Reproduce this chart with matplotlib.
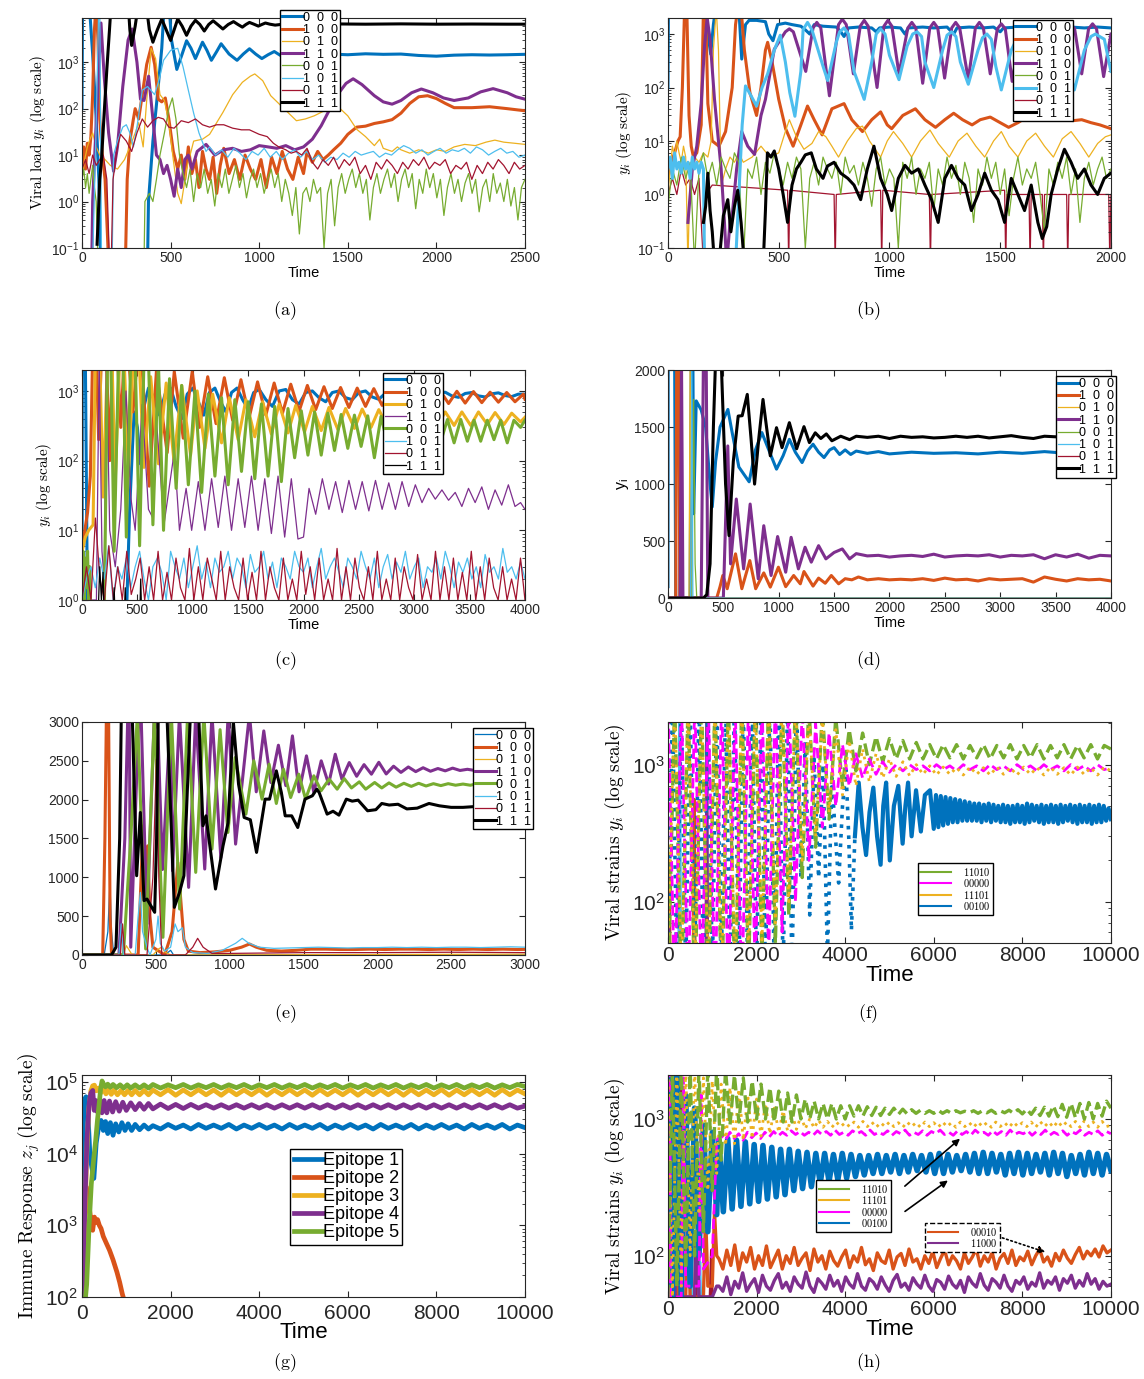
import numpy as np
import matplotlib
matplotlib.use("Agg")
import matplotlib.pyplot as plt
from matplotlib.lines import Line2D

plt.rcParams['font.family'] = ['Liberation Sans', 'DejaVu Sans']
plt.rcParams['mathtext.fontset'] = 'cm'
plt.rcParams['axes.edgecolor'] = '#262626'
plt.rcParams['xtick.color'] = '#262626'
plt.rcParams['ytick.color'] = '#262626'

BLUE, ORANGE, YELLOW, PURPLE = '#0072BD', '#D95319', '#EDB120', '#7E2F8E'
GREEN, LBLUE, DRED, BLACK, MAGENTA = '#77AC30', '#4DBEEE', '#A2142F', 'k', '#FF00FF'
COLORS8 = [BLUE, ORANGE, YELLOW, PURPLE, GREEN, LBLUE, DRED, BLACK]
STRAINS3 = ['0  0  0', '1  0  0', '0  1  0', '1  1  0', '0  0  1', '1  0  1', '0  1  1', '1  1  1']
TK, TN = 2.2, 0.9   # thick / thin line widths


def spread(t0, t1, vals):
    """pair hand-read samples with evenly spaced times"""
    return list(zip(np.linspace(t0, t1, len(vals)), vals))


# ---------------- (a) ----------------
a_000 = [(0, 100), (3, 2e4), (40, 2e4), (60, 1500), (80, 60), (95, 3), (105, 0.05), (370, 0.05), (375, 1), (400, 20),
         (430, 300), (450, 2000), (465, 2e4), (490, 2e4), (505, 3000), (535, 700), (565, 1500), (590, 2900), (615, 2000),
         (640, 1200), (660, 1800), (680, 2700), (705, 1800), (730, 1100), (760, 1700), (785, 2500), (830, 1500),
         (875, 1100), (910, 1500), (945, 1950), (980, 1500), (1015, 1200), (1050, 1450), (1085, 1700), (1120, 1400),
         (1150, 1350), (1200, 1500), (1300, 1450), (1400, 1500), (1500, 1450), (1600, 1520), (1700, 1480), (1800, 1500),
         (1900, 1400), (2000, 1350), (2100, 1420), (2200, 1450), (2300, 1430), (2400, 1450), (2500, 1480)]
a_100 = [(0, 6), (10, 15), (20, 5), (30, 18), (40, 10), (50, 25), (60, 200), (70, 5000), (80, 2e4), (90, 3000), (100, 60),
         (115, 10), (130, 3), (150, 0.05), (245, 0.05), (255, 3), (270, 20), (290, 60), (300, 100), (320, 60), (340, 200),
         (365, 900), (390, 2100), (410, 900), (430, 160), (450, 140), (470, 170), (490, 60), (515, 12), (540, 5), (560, 10),
         (580, 3), (600, 15), (620, 4), (640, 8), (660, 2), (680, 12), (700, 5), (720, 3), (740, 9), (760, 1.5), (780, 6),
         (800, 14), (830, 4), (860, 8), (890, 3), (920, 10), (950, 5), (980, 3), (1010, 8), (1040, 2), (1070, 9),
         (1100, 4), (1130, 12), (1160, 5), (1190, 3), (1220, 9), (1250, 4), (1270, 12), (1300, 7), (1330, 12), (1360, 8),
         (1390, 10), (1420, 13), (1460, 18), (1500, 28), (1550, 40), (1600, 42), (1650, 48), (1700, 52), (1750, 58),
         (1800, 80), (1850, 130), (1900, 180), (1950, 190), (2000, 165), (2050, 130), (2100, 105), (2200, 105),
         (2300, 110), (2400, 100), (2500, 90)]
a_010 = [(0, 3), (15, 8), (30, 15), (45, 22), (60, 30), (80, 15), (100, 10), (130, 8), (160, 6), (200, 5), (240, 8),
         (270, 15), (300, 30), (320, 50), (345, 15), (365, 150), (390, 2000), (415, 1200), (440, 200), (465, 150),
         (490, 50), (515, 8), (540, 1.5), (560, 0.9), (590, 5), (630, 20), (680, 22), (720, 28), (760, 50), (795, 83),
         (850, 200), (905, 370), (950, 500), (975, 560), (1020, 400), (1065, 190), (1140, 100), (1210, 55), (1260, 60),
         (1310, 70), (1380, 95), (1440, 115), (1500, 70), (1550, 36), (1600, 25), (1650, 16), (1680, 22), (1700, 14),
         (1750, 12), (1780, 15), (1800, 13), (1850, 11), (1900, 13), (1955, 11), (2000, 13), (2050, 12), (2100, 15),
         (2160, 17), (2220, 16), (2280, 19), (2330, 21), (2380, 19), (2440, 18), (2500, 17)]
a_110 = [(0, 0.05), (55, 0.05), (60, 1), (80, 50), (107, 7000), (125, 500), (150, 30), (178, 4.5), (200, 15), (230, 300),
         (260, 3000), (283, 5200), (310, 1000), (330, 160), (350, 150), (376, 500), (400, 60), (420, 10), (440, 8),
         (460, 4), (480, 6), (500, 3), (520, 1.3), (540, 5), (560, 2), (580, 8), (600, 10), (620, 5), (650, 12), (700, 17),
         (750, 10), (800, 13), (850, 14), (900, 12), (950, 13), (1000, 16), (1050, 15), (1100, 14), (1150, 16),
         (1200, 13), (1250, 15), (1300, 22), (1350, 43), (1400, 100), (1450, 220), (1490, 350), (1530, 440), (1580, 330),
         (1650, 190), (1700, 140), (1750, 125), (1800, 150), (1860, 220), (1915, 265), (1980, 220), (2040, 170),
         (2100, 150), (2180, 170), (2250, 230), (2320, 270), (2400, 220), (2450, 180), (2500, 160)]
a_001 = [(0, 3), (10, 5), (20, 2), (30, 4), (40, 1.5), (50, 3), (60, 6), (70, 2), (80, 1), (90, 0.05), (350, 0.05),
         (355, 1), (380, 1.5), (400, 1), (420, 3), (440, 10), (465, 30), (490, 100), (510, 170), (530, 60), (550, 10),
         (570, 4)] + spread(590, 2500, [2, 5, 1, 4, 2, 5, 1.5, 3, 0.8, 4, 2, 5, 1.5, 3, 6, 2, 4, 1.2, 3, 5, 2, 4, 1.5, 3, 5,
                                        2, 4, 1, 3, 1.5, 0.5, 2, 0.2, 1.5, 2, 1, 3, 1.5, 2, 0.1, 1.5, 3, 0.3, 2, 4, 1.5,
                                        3, 5, 2, 4, 1.5, 3, 0.4, 2, 4, 1.5, 3, 5, 2, 4, 1, 3, 5, 2, 4, 0.7, 3, 1.5, 5, 2,
                                        4, 1.2, 3, 0.5, 2, 4, 1.5, 3, 1, 2.5, 4, 1.5, 3, 0.6, 2, 3, 1, 4, 1.5, 2.5, 1, 3,
                                        0.8, 2, 0.4, 2, 3])
a_101 = [(60, 0.05), (80, 50), (95, 2e4), (100, 2e4), (110, 0.05), (170, 0.05), (178, 10), (200, 20), (230, 40),
         (250, 45), (270, 30), (290, 15), (310, 40), (340, 250), (370, 300), (410, 200), (440, 500), (460, 1100),
         (500, 1800), (540, 2000), (570, 800), (600, 250), (630, 80), (660, 30), (700, 12)] + \
    spread(720, 2500, [15, 10, 13, 9, 14, 11, 8, 12, 10, 14, 9, 12, 8, 11, 13, 9, 12, 8, 10, 7, 9, 8, 11, 9, 12, 10, 11,
                       12, 9, 11, 10, 13, 16, 14, 11, 13, 10, 12, 14, 11, 13, 12, 14, 11, 15, 13, 10, 12, 14, 11, 12, 9,
                       10])
a_011 = [(0, 5), (20, 8), (40, 4), (60, 10), (80, 6), (100, 8), (120, 10), (140, 3), (155, 0.05), (165, 0.05), (175, 3),
         (200, 15), (218, 28), (250, 20), (280, 12), (310, 30), (340, 60), (370, 40), (400, 55), (430, 65), (460, 60),
         (490, 40), (520, 38), (560, 55), (600, 50), (640, 60), (680, 45), (720, 40), (760, 45), (800, 45), (850, 38),
         (900, 35), (945, 35), (1000, 28), (1045, 25), (1080, 18), (1110, 15), (1150, 13), (1180, 11), (1210, 12)] + \
    spread(1240, 2500, [10, 14, 7, 5, 8, 6, 9, 5, 8, 6, 9, 4, 6, 3, 7, 5, 8, 6, 4, 7, 5, 8, 6, 9, 5, 7, 6, 8, 4, 6, 5, 7, 3,
                        6, 4, 7, 5, 8, 6, 4, 7, 5, 6])
a_111 = [(85, 0.12), (95, 1), (100, 3), (110, 8), (125, 80), (140, 700), (155, 5000), (165, 2e4), (260, 2e4), (270, 5000),
         (280, 2300), (300, 6000), (320, 2e4), (360, 2e4), (380, 5000), (400, 2700), (425, 5000), (450, 8500),
         (475, 5000), (500, 2950), (520, 5000), (540, 8500), (565, 6000), (590, 3800), (615, 6000), (640, 8000),
         (665, 6500), (690, 4700), (715, 6500), (740, 7800), (765, 6500), (795, 5200), (825, 6500), (855, 7500),
         (880, 6500), (905, 5700), (925, 6500), (945, 7200), (970, 6600), (995, 6000), (1015, 6500), (1035, 7000),
         (1060, 6600), (1090, 6300), (1150, 6700), (1250, 6600), (1400, 6700), (1600, 6600), (1800, 6700),
         (2000, 6600), (2200, 6650), (2400, 6600), (2500, 6600)]

# ---------------- (b) ----------------
b_000 = [(0, 100), (2, 3000), (170, 3000), (180, 1000), (193, 420), (205, 1500), (215, 3000), (320, 3000), (333, 340),
         (350, 1500), (366, 1800), (400, 1800), (440, 1700), (455, 1000), (474, 750), (495, 1500), (530, 1600),
         (560, 1500), (600, 1400), (620, 1200), (640, 1000), (660, 1500), (700, 1400), (760, 1350), (780, 1100),
         (795, 900), (815, 1300), (860, 1350), (920, 1300), (940, 1100), (955, 1300), (1000, 1350), (1050, 1300),
         (1070, 1000), (1085, 1300), (1150, 1350), (1200, 1300), (1260, 1350), (1290, 1000), (1305, 1300),
         (1360, 1350), (1420, 1300), (1470, 1350), (1500, 1100), (1515, 1300), (1580, 1350), (1640, 1300),
         (1700, 1350), (1760, 1300), (1820, 1350), (1880, 1300), (1940, 1350), (2000, 1300)]
b_100 = [(0, 2), (15, 4), (30, 6), (45, 10), (55, 12), (65, 100), (75, 3000), (85, 3000), (95, 30), (105, 8), (115, 5),
         (130, 6), (150, 20), (160, 3000), (170, 3000), (180, 50), (200, 10), (230, 8), (260, 15), (290, 100),
         (305, 1500), (315, 3000), (330, 3000), (345, 500), (370, 80), (400, 30), (420, 100), (440, 500), (450, 700),
         (470, 300), (500, 60), (531, 17), (565, 8), (600, 20), (630, 45), (660, 25), (696, 13), (740, 40), (795, 50),
         (830, 25), (878, 15), (920, 25), (960, 35), (990, 20), (1010, 17), (1060, 30), (1117, 40), (1160, 25),
         (1208, 18), (1250, 25), (1290, 33), (1330, 25), (1373, 20), (1410, 25), (1455, 28), (1500, 22), (1538, 18),
         (1580, 22), (1620, 28), (1660, 32), (1703, 30), (1750, 25), (1790, 28), (1830, 24), (1868, 25), (1910, 22),
         (1950, 20), (2000, 17)]
b_010 = [(0, 1), (10, 3), (20, 8), (30, 5), (40, 10), (50, 6), (60, 4), (70, 8), (80, 5), (90, 0.05), (100, 3), (120, 5),
         (140, 4), (160, 6), (180, 5), (195, 10), (205, 500), (218, 3000), (228, 500), (240, 1.4), (260, 3), (280, 5),
         (300, 4), (320, 6), (340, 4), (380, 5), (420, 8), (460, 5), (500, 6), (530, 15), (548, 25), (580, 12),
         (614, 7), (650, 9), (680, 15), (713, 12), (740, 8), (770, 5), (810, 10), (850, 17), (878, 19), (910, 10),
         (960, 5), (990, 10), (1018, 15), (1060, 9), (1100, 5), (1140, 10), (1183, 16), (1220, 9), (1270, 5),
         (1310, 10), (1350, 14), (1390, 8), (1430, 5), (1470, 10), (1505, 15), (1540, 8), (1580, 5), (1620, 10),
         (1660, 14), (1700, 8), (1740, 5), (1780, 11), (1820, 15), (1860, 9), (1900, 5), (1940, 9), (1975, 12),
         (2000, 13)]
b_110 = [(90, 0.3), (110, 3), (130, 8), (150, 50), (165, 600), (177, 2000), (190, 800), (210, 60), (240, 3), (255, 0.3),
         (265, 0.05), (280, 0.3), (292, 0.5), (310, 3), (333, 15), (360, 8), (391, 5.6), (420, 30), (440, 60),
         (480, 520), (530, 1100), (548, 1250), (566, 1100), (622, 200), (655, 1300), (672, 1650), (690, 1300),
         (729, 70), (770, 1500), (787, 1900), (805, 1500), (837, 180), (868, 1400), (886, 1800), (904, 1400),
         (944, 100), (975, 1400), (993, 1800), (1011, 1400), (1043, 180), (1083, 1300), (1101, 1650), (1119, 1300),
         (1150, 120), (1182, 1300), (1200, 1650), (1218, 1300), (1249, 150), (1281, 1300), (1299, 1650), (1317, 1300),
         (1356, 140), (1388, 1300), (1406, 1650), (1424, 1300), (1455, 180), (1487, 1250), (1505, 1550), (1523, 1250),
         (1554, 130), (1594, 1250), (1612, 1550), (1630, 1250), (1662, 180), (1701, 1250), (1719, 1550), (1737, 1250),
         (1769, 140), (1800, 1250), (1818, 1550), (1836, 1250), (1868, 180), (1899, 1250), (1917, 1550), (1935, 1250),
         (1967, 160), (2000, 1000)]
b_001 = spread(0, 2000, [0.6, 3, 1.5, 5, 2, 4, 0.05, 3, 6, 2, 4, 1.5, 5, 3, 2, 6, 4, 0.05, 3, 2, 5, 1, 4, 2.5, 6, 3,
                         1.5, 4, 2, 5, 3, 0.1, 2, 4, 1.5, 5, 3, 2, 4, 1, 5, 2.5, 3.5, 1.5, 4, 2, 0.6, 3, 5, 1.5, 3, 2,
                         0.1, 4, 2, 5, 1, 3, 2, 4, 0.5, 3, 1.5, 5, 2, 3.5, 1, 4, 2, 0.3, 3, 1.5, 5, 2, 4, 1, 3, 0.4,
                         2, 5, 1.5, 3, 2, 4, 1, 0.2, 3, 1.5, 4, 2, 5, 1, 3, 0.3, 2, 4, 1.5, 3, 5, 2, 3])
b_101 = [(0, 3), (10, 5), (20, 2), (30, 6), (40, 3), (50, 4), (60, 2.5), (70, 5), (80, 3), (90, 4), (100, 2), (110, 5),
         (120, 3), (130, 4), (140, 2.5), (150, 4), (160, 3), (165, 0.05), (305, 0.05), (320, 1), (335, 20), (350, 107),
         (375, 70), (400, 45), (425, 100), (450, 180), (480, 500), (507, 950), (530, 300), (550, 80), (573, 29),
         (600, 200), (610, 1200), (630, 1650), (650, 1200), (700, 250), (721, 135), (760, 700), (775, 1100),
         (795, 1300), (815, 1000), (840, 200), (886, 60), (920, 300), (940, 1000), (960, 1250), (980, 1000),
         (1000, 400), (1043, 140), (1080, 600), (1105, 1000), (1125, 1100), (1145, 900), (1160, 300), (1200, 100),
         (1240, 500), (1260, 950), (1280, 1100), (1300, 900), (1320, 300), (1356, 115), (1400, 500), (1420, 850),
         (1440, 1000), (1460, 800), (1480, 250), (1505, 90), (1550, 500), (1580, 900), (1600, 1000), (1620, 850),
         (1640, 300), (1680, 100), (1720, 500), (1740, 900), (1760, 1050), (1780, 900), (1800, 300), (1835, 90),
         (1880, 500), (1910, 900), (1930, 1000), (1970, 800), (2000, 200)]
b_011 = [(0, 1), (20, 2), (40, 1), (60, 3), (80, 1.5), (100, 2), (120, 1), (140, 2), (160, 0.05), (170, 1), (200, 1.5),
         (540, 1.2), (545, 0.05), (550, 1.2), (750, 1), (755, 0.05), (760, 1), (960, 1.2), (965, 0.05), (970, 1.2),
         (1180, 1), (1185, 0.05), (1190, 1), (1520, 1.2), (1525, 0.05), (1530, 1), (1630, 1), (1635, 0.05),
         (1640, 1), (1690, 1), (1695, 0.05), (1700, 1), (1800, 1), (1805, 0.05), (1810, 1), (1990, 1), (1995, 0.05),
         (2000, 1)]
b_111 = [(160, 0.3), (170, 0.6), (180, 2.5), (190, 0.5), (200, 0.2), (210, 0.05), (230, 0.05), (250, 0.4), (270, 0.8),
         (284, 0.2), (300, 0.6), (315, 1.2), (330, 0.3), (345, 0.05), (430, 0.05), (440, 0.5), (449, 6), (465, 5),
         (480, 6.5), (500, 3), (520, 1), (540, 0.3), (560, 1.5), (580, 3), (600, 4), (620, 5.5), (647, 6), (670, 3),
         (700, 2), (720, 3.4), (750, 4), (780, 2.5), (812, 2), (840, 1.5), (870, 0.8), (900, 3), (930, 8), (960, 2),
         (990, 1), (1010, 0.5), (1040, 2), (1070, 3.5), (1100, 2.5), (1130, 3), (1160, 1.5), (1190, 0.8), (1220, 0.3),
         (1250, 2), (1280, 3.5), (1310, 2), (1340, 1.5), (1370, 0.5), (1400, 1), (1430, 2.5), (1460, 1.2), (1490, 0.8),
         (1520, 0.3), (1550, 2), (1580, 1), (1610, 0.5), (1640, 1.5), (1670, 0.3), (1690, 0.15), (1710, 0.25),
         (1730, 1), (1760, 3), (1790, 7), (1820, 4), (1850, 2), (1880, 3), (1910, 1.5), (1940, 1), (1970, 2),
         (2000, 2.5)]

# ---------------- (c) ----------------
c_000 = [(0, 0.5), (3, 3000), (30, 3000), (50, 0.5), (400, 0.5), (430, 20), (470, 500), (500, 300), (527, 90), (560, 600),
         (600, 1100), (650, 800), (700, 450), (750, 900), (800, 1100), (850, 600), (900, 400), (950, 900), (1000, 1100),
         (1050, 700), (1100, 450), (1150, 950), (1200, 1100), (1250, 700), (1300, 500), (1350, 950), (1400, 1100),
         (1450, 750), (1500, 550), (1550, 950), (1600, 1050), (1660, 750), (1720, 600), (1780, 1000), (1840, 1050),
         (1900, 750), (1960, 650), (2020, 950), (2080, 1000), (2140, 800), (2200, 700), (2260, 950), (2320, 1000),
         (2380, 800), (2440, 750), (2500, 950), (2560, 1000), (2620, 820), (2680, 760), (2740, 930), (2800, 980),
         (2860, 830), (2920, 780), (2980, 930), (3040, 970), (3100, 840), (3160, 800), (3220, 920), (3280, 960),
         (3340, 850), (3400, 810), (3460, 920), (3520, 950), (3580, 850), (3640, 820), (3700, 910), (3760, 940),
         (3820, 860), (3880, 830), (3940, 900), (4000, 900)]
c_100 = [(0, 5), (25, 10), (50, 18), (75, 60), (95, 3000), (130, 3000), (150, 200), (175, 3000), (220, 3000), (250, 100),
         (275, 3000), (320, 3000), (350, 300), (380, 3000), (420, 3000), (460, 500), (500, 3000), (540, 2500),
         (607, 43), (672, 1950), (769, 130), (833, 1900), (914, 210), (995, 1900), (1060, 300), (1135, 1600),
         (1210, 340), (1285, 1550), (1360, 380), (1435, 1450), (1510, 420), (1585, 1350), (1660, 450), (1735, 1300),
         (1810, 480), (1885, 1250), (1960, 510), (2035, 1200), (2110, 540), (2185, 1150), (2260, 560), (2335, 1120),
         (2410, 580), (2485, 1100), (2560, 600), (2635, 1080), (2710, 620), (2785, 1060), (2860, 630), (2935, 1040),
         (3010, 640), (3085, 1020), (3160, 650), (3235, 1000), (3310, 660), (3385, 990), (3460, 670), (3535, 980),
         (3610, 680), (3685, 960), (3760, 690), (3835, 950), (3910, 700), (3985, 900), (4000, 760)]
c_010 = [(0, 5), (30, 8), (60, 10), (100, 12), (120, 3000), (160, 3000), (190, 30), (230, 3000), (270, 3000), (300, 50),
         (340, 3000), (380, 3000), (420, 60), (460, 2500), (520, 2000), (560, 80), (620, 1600), (690, 90), (760, 1300),
         (830, 100), (900, 1200), (980, 120), (1040, 1000), (1110, 150), (1180, 900), (1260, 180), (1330, 800),
         (1410, 200), (1480, 750), (1560, 220), (1630, 700), (1710, 240), (1780, 650), (1860, 250), (1930, 620),
         (2010, 260), (2080, 600), (2160, 270), (2230, 580), (2310, 280), (2380, 560), (2460, 290), (2530, 550),
         (2610, 300), (2680, 540), (2760, 300), (2830, 530), (2910, 310), (2980, 520), (3060, 310), (3130, 510),
         (3210, 320), (3280, 500), (3360, 320), (3430, 500), (3510, 320), (3580, 500), (3660, 330), (3730, 490),
         (3810, 330), (3880, 480), (3960, 360), (4000, 420)]
c_110 = [(0, 1), (130, 1), (155, 3000), (180, 5), (200, 2), (220, 3000), (250, 10), (300, 3), (350, 20), (397, 1000),
         (440, 30), (480, 10), (543, 640), (600, 20), (640, 15), (672, 390), (740, 12), (833, 135), (880, 10), (940, 40),
         (990, 10), (1050, 50), (1110, 10), (1170, 55), (1230, 11), (1290, 60), (1350, 10), (1410, 55), (1470, 11),
         (1530, 60), (1590, 10), (1650, 55), (1710, 9), (1770, 60), (1830, 8), (1890, 55), (1950, 7.5), (2000, 8),
         (2050, 40), (2110, 17), (2170, 55), (2230, 20), (2290, 50), (2350, 18), (2410, 52), (2470, 20), (2530, 50),
         (2590, 19), (2650, 52), (2710, 20), (2770, 48), (2830, 20), (2890, 50), (2950, 22), (3010, 45), (3070, 25),
         (3130, 40), (3190, 28), (3250, 38), (3310, 27), (3370, 35), (3430, 22), (3490, 40), (3550, 25), (3610, 42),
         (3670, 20), (3730, 38), (3790, 23), (3850, 45), (3910, 22), (3960, 25), (4000, 20)]
c_001 = [(0, 2), (10, 5), (20, 1), (30, 4), (40, 1.5), (50, 5), (60, 1), (70, 3), (80, 0.5), (200, 0.5), (230, 3000),
         (260, 3000), (290, 5), (330, 3000), (370, 3000), (400, 8), (440, 3000), (480, 3000), (520, 6), (560, 3000),
         (600, 3000), (640, 12), (690, 2500), (736, 10), (790, 1500), (850, 40), (900, 1200), (960, 45), (1020, 1000),
         (1080, 35), (1140, 900), (1200, 60), (1260, 800), (1320, 45), (1380, 750), (1440, 70), (1500, 700),
         (1560, 55), (1620, 650), (1680, 60), (1740, 600), (1800, 50), (1860, 560), (1920, 110), (1980, 520),
         (2040, 120), (2100, 500), (2160, 120), (2220, 480), (2280, 140), (2340, 460), (2400, 150), (2460, 450),
         (2520, 160), (2580, 440), (2640, 110), (2700, 430), (2760, 170), (2820, 420), (2880, 180), (2940, 410),
         (3000, 175), (3060, 400), (3120, 180), (3180, 400), (3240, 190), (3300, 390), (3360, 180), (3420, 390),
         (3480, 190), (3540, 380), (3600, 190), (3660, 380), (3720, 200), (3780, 380), (3840, 180), (3900, 380),
         (3960, 300), (4000, 380)]
c_101 = spread(0, 4000, [1, 2, 3, 1.5, 4, 2, 6, 1, 3, 2, 4, 1.5, 3, 5, 2, 1, 3, 4, 2.5, 1, 5, 3, 2, 4, 1.5, 3, 6, 2,
                         3.5, 1.5, 4, 2.5, 3, 5, 2, 4, 3, 1.5, 4.5, 2.5, 3, 5, 2, 3.5, 1.5, 4, 3, 2, 5, 3, 2.5, 4, 1.5,
                         3, 5.5, 2, 3, 4, 2.5, 1.5, 4, 3, 2, 5, 3, 2, 4, 1.5, 3, 4.5, 2, 3.5, 2.5, 5, 2, 3, 4, 1.5, 3,
                         2.5, 4, 2, 5, 3, 1.5, 3.5, 2.5, 4, 2, 3, 1.5, 4.5, 2.5, 3, 2, 5.5, 2.5, 3, 2, 3.5, 2])
c_011 = spread(0, 4000, [1, 3, 1, 15, 2, 1, 6, 1, 3, 1, 5, 1.2, 2, 4, 1, 3, 1, 5, 1, 2.5, 1, 4, 1.5, 1, 5.5, 1, 3, 1, 4,
                         2, 1, 5, 1, 3, 1.5, 1, 4, 1, 2.5, 1, 5, 1, 3, 1.5, 1, 4, 1, 2, 1, 5, 1.2, 3, 1, 4, 1, 2, 1,
                         5.5, 1, 3, 1, 4, 1.5, 1, 3, 1, 5, 1, 2, 1, 4, 1, 3, 1.5, 1, 4.5, 1, 2, 1, 5, 1, 3, 1, 4, 1,
                         2.5, 1, 5, 1, 3, 1, 4, 1.5, 1, 3, 1, 2, 1, 4, 1])
c_111 = [(0, 0.5), (140, 0.5), (150, 1), (160, 3), (175, 1), (190, 2.5), (200, 0.5), (280, 0.5), (290, 1.5), (300, 0.5),
         (380, 0.5), (390, 1.5), (400, 0.5), (520, 0.5), (530, 2), (540, 0.5), (4000, 0.5)]

# ---------------- (d) ----------------
d_000 = [(0, 100), (2, 2100), (60, 2100), (70, 0), (200, 0), (210, 2100), (225, 2100), (232, 740), (255, 1730),
         (300, 1650), (340, 1500), (380, 1000), (400, 800), (430, 1200), (470, 1500), (541, 1655), (580, 1450),
         (640, 1150), (690, 1080), (733, 1020), (790, 1300), (848, 1452), (910, 1300), (980, 1131), (1040, 1250),
         (1096, 1393), (1150, 1280), (1211, 1189), (1260, 1290), (1310, 1350), (1360, 1280), (1409, 1233),
         (1460, 1300), (1500, 1320), (1550, 1260), (1600, 1300), (1650, 1260), (1700, 1290), (1800, 1270),
         (1900, 1285), (2000, 1265), (2200, 1280), (2400, 1270), (2600, 1275), (2800, 1265), (3000, 1280),
         (3200, 1270), (3400, 1285), (3600, 1270), (3800, 1265), (4000, 1280)]
d_100 = [(0, 0), (70, 0), (79, 2100), (100, 2100), (106, 0), (440, 0), (470, 100), (495, 198), (535, 82), (610, 388),
         (667, 82), (739, 329), (792, 82), (865, 221), (924, 96), (997, 271), (1063, 100), (1135, 198), (1195, 125),
         (1228, 233), (1310, 105), (1360, 175), (1420, 130), (1475, 198), (1541, 125), (1600, 170), (1660, 160),
         (1720, 185), (1800, 160), (1900, 170), (2000, 160), (2100, 165), (2200, 160), (2300, 170), (2400, 155),
         (2500, 175), (2600, 160), (2700, 165), (2800, 150), (2900, 170), (3000, 160), (3100, 165), (3200, 170),
         (3300, 140), (3400, 185), (3500, 165), (3600, 150), (3700, 170), (3800, 160), (3900, 165), (4000, 150)]
d_010 = [(0, 0), (190, 0), (200, 2100), (212, 0), (4000, 0)]
d_110 = [(0, 0), (110, 0), (122, 2100), (135, 0), (300, 0), (320, 2100), (345, 2100), (360, 0), (500, 0), (540, 1335),
         (565, 300), (617, 869), (683, 256), (742, 825), (815, 169), (865, 635), (931, 198), (990, 540), (1063, 227),
         (1112, 533), (1178, 256), (1238, 446), (1294, 315), (1360, 460), (1426, 344), (1500, 400), (1574, 431),
         (1640, 344), (1700, 390), (1750, 380), (1800, 370), (1900, 375), (2000, 360), (2100, 370), (2200, 375),
         (2300, 365), (2400, 385), (2500, 360), (2600, 370), (2700, 375), (2800, 370), (2900, 380), (3000, 360),
         (3100, 375), (3200, 370), (3300, 380), (3400, 345), (3500, 380), (3600, 360), (3700, 385), (3800, 350),
         (3900, 375), (4000, 370)]
d_001 = [(0, 0), (215, 0), (232, 1743), (245, 300), (260, 0), (4000, 0)]
d_101 = [(0, 0), (205, 0), (215, 2100), (225, 0), (4000, 0)]
d_011 = [(0, 0), (4000, 0)]
d_111 = [(0, 0), (320, 0), (350, 30), (380, 300), (410, 1500), (430, 2100), (480, 2100), (520, 1000), (551, 548),
         (590, 1200), (634, 1597), (670, 1600), (716, 1787), (750, 1400), (782, 1000), (820, 1400), (858, 1743),
         (890, 1500), (924, 1248), (980, 1495), (1030, 1320), (1096, 1539), (1162, 1310), (1228, 1504), (1277, 1364),
         (1330, 1450), (1380, 1400), (1430, 1440), (1480, 1380), (1560, 1420), (1640, 1390), (1700, 1420),
         (1800, 1410), (1900, 1420), (2000, 1400), (2100, 1420), (2200, 1410), (2300, 1415), (2400, 1405),
         (2500, 1410), (2600, 1420), (2700, 1410), (2800, 1420), (2900, 1405), (3000, 1415), (3100, 1425),
         (3200, 1410), (3300, 1400), (3400, 1420), (3500, 1415), (3600, 1420), (3700, 1410), (3800, 1420),
         (3900, 1410), (4000, 1415)]

# ---------------- (e) ----------------
e_000 = [(0, 0), (150, 0), (175, 300), (189, 934), (200, 300), (215, 0), (560, 0), (600, 60), (620, 0), (3000, 0)]
e_100 = [(0, 0), (140, 0), (155, 1500), (165, 3100), (180, 3100), (190, 500), (200, 0), (380, 0), (400, 1000),
         (415, 1663), (430, 1100), (445, 1405), (460, 500), (480, 100), (560, 0), (610, 300), (649, 1190), (665, 800),
         (690, 200), (720, 50), (800, 30), (900, 40), (1000, 60), (1080, 100), (1134, 141), (1180, 100), (1250, 60),
         (1350, 50), (1450, 60), (1550, 75), (1650, 75), (1750, 70), (1850, 70), (1950, 75), (2050, 70), (2150, 75),
         (2250, 75), (2350, 70), (2450, 75), (2550, 70), (2650, 75), (2750, 70), (2850, 75), (2950, 70), (3000, 72)]
e_010 = [(0, 0), (280, 0), (300, 120), (320, 60), (340, 0), (480, 0), (520, 80), (540, 100), (560, 40), (600, 0),
         (3000, 10)]
e_110 = [(0, 0), (250, 0), (290, 1500), (310, 3100), (320, 3100), (330, 100), (385, 3100), (400, 3100), (440, 400),
         (490, 3100), (510, 3100), (545, 1100), (600, 3100), (613, 1084), (660, 3100), (722, 870), (770, 3100),
         (831, 1106), (880, 3100), (940, 1250), (990, 3100), (1040, 1427), (1134, 3100), (1180, 2100), (1231, 2884),
         (1279, 2220), (1330, 2700), (1380, 2180), (1425, 2820), (1470, 2100), (1520, 2563), (1570, 2092),
         (1620, 2499), (1670, 2200), (1715, 2584), (1760, 2263), (1810, 2477), (1860, 2300), (1910, 2450),
         (1960, 2327), (2010, 2480), (2060, 2330), (2110, 2430), (2160, 2350), (2210, 2420), (2260, 2360),
         (2310, 2410), (2360, 2365), (2410, 2400), (2460, 2370), (2510, 2405), (2560, 2375), (2610, 2390),
         (2660, 2375), (2710, 2395), (2760, 2380), (2810, 2385), (2860, 2380), (2910, 2390), (2960, 2380),
         (3000, 2385)]
e_001 = [(0, 0), (280, 0), (330, 1500), (375, 3100), (431, 77), (490, 3100), (548, 227), (605, 3100), (661, 591),
         (715, 3100), (770, 1063), (825, 3100), (880, 1363), (935, 2900), (988, 1577), (1037, 2541), (1110, 1813),
         (1163, 2500), (1219, 2006), (1267, 2456), (1316, 1950), (1364, 2392), (1413, 2027), (1468, 2327),
         (1514, 2006), (1570, 2306), (1619, 2113), (1674, 2263), (1728, 2134), (1776, 2270), (1825, 2150),
         (1878, 2229), (1921, 2134), (1982, 2220), (2030, 2150), (2079, 2215), (2127, 2160), (2180, 2210),
         (2230, 2170), (2280, 2210), (2330, 2175), (2380, 2205), (2430, 2180), (2480, 2205), (2530, 2185),
         (2580, 2200), (2630, 2185), (2680, 2205), (2730, 2190), (2780, 2200), (2830, 2190), (2880, 2200),
         (2930, 2195), (3000, 2200)]
e_101 = [(0, 0), (250, 0), (265, 400), (280, 0), (360, 0), (380, 500), (395, 805), (410, 300), (440, 100), (460, 0),
         (500, 200), (515, 500), (530, 150), (560, 50), (600, 100), (630, 400), (650, 300), (680, 350), (700, 100),
         (750, 30), (850, 20), (950, 60), (1040, 150), (1085, 214), (1130, 150), (1200, 100), (1300, 85), (1400, 90),
         (1500, 95), (1600, 100), (1700, 95), (1800, 90), (1900, 95), (2000, 95), (2100, 100), (2200, 95),
         (2300, 100), (2400, 95), (2500, 100), (2600, 100), (2700, 95), (2800, 100), (2900, 105), (3000, 100)]
e_011 = [(0, 0), (260, 0), (274, 400), (290, 0), (440, 0), (480, 1000), (504, 2520), (520, 1000), (540, 0), (700, 0),
         (750, 100), (783, 214), (820, 100), (880, 20), (1000, 20), (1500, 30), (2000, 30), (2500, 35), (3000, 30)]
e_111 = [(0, 0), (200, 0), (230, 100), (255, 1500), (266, 3100), (340, 3100), (370, 1020), (395, 1834), (420, 700),
         (440, 720), (492, 549), (505, 1500), (516, 3100), (575, 3100), (625, 613), (660, 805), (690, 1020),
         (734, 3100), (790, 3100), (819, 1663), (840, 1791), (860, 1491), (904, 849), (955, 1405), (989, 1700),
         (1025, 3000), (1060, 2200), (1098, 1770), (1140, 1740), (1182, 1320), (1240, 2006), (1270, 2006),
         (1316, 2370), (1350, 2091), (1376, 1791), (1420, 1791), (1461, 1641), (1510, 2006), (1560, 2049),
         (1590, 2134), (1606, 2091), (1660, 1813), (1700, 1850), (1740, 1800), (1790, 2006), (1830, 1980),
         (1870, 1993), (1934, 1856), (1990, 1870), (2030, 1950), (2080, 1930), (2140, 1940), (2200, 1880),
         (2270, 1890), (2350, 1950), (2420, 1920), (2500, 1900), (2580, 1900), (2660, 1910), (2740, 1920),
         (2820, 1900), (2900, 1900), (3000, 1900)]

# ---------------- (f) ----------------
f_11010 = spread(0, 10000, [20, 3000, 20, 3000, 20, 3000, 20, 3000, 20, 3000, 20, 3000, 30, 3000, 40, 3000, 50, 3000,
                            80, 3000, 150, 2800, 250, 2500, 400, 2200, 700, 1800, 900, 1700, 1000, 1600, 1050, 1550,
                            1100, 1500, 1100, 1450, 1100, 1400, 1100, 1400, 1120, 1400, 1100, 1380, 1120, 1400, 1100,
                            1380, 1120, 1400, 1100, 1380, 1120, 1400, 1100, 1380, 1120, 1400, 1100, 1380, 1120, 1400,
                            1100, 1380, 1300])
f_00000 = spread(0, 10000, [3000, 20, 3000, 20, 3000, 20, 3000, 20, 3000, 20, 3000, 20, 3000, 30, 3000, 40, 3000, 60,
                            3000, 100, 2500, 200, 2000, 350, 1700, 500, 1400, 700, 1200, 800, 1100, 850, 1050, 880,
                            1000, 900, 1000, 920, 980, 900, 1000, 920, 980, 900, 1000, 920, 980, 900, 1000, 920, 980,
                            900, 1000, 920, 980, 900, 1000, 920, 980, 900, 1000, 920, 980, 900, 1000, 920, 950])
f_11101 = spread(0, 10000, [50, 3000, 30, 3000, 30, 3000, 30, 3000, 30, 3000, 30, 3000, 40, 3000, 50, 3000, 70, 3000,
                            100, 2800, 200, 2500, 300, 2200, 450, 1800, 600, 1500, 700, 1300, 750, 1200, 800, 1100,
                            820, 1050, 830, 1000, 850, 980, 840, 960, 850, 950, 840, 960, 850, 950, 840, 960, 850, 950,
                            840, 960, 850, 950, 840, 960, 850, 950, 840, 960, 850, 950, 840, 960, 900])
f_00100_early = spread(0, 3000, [30, 3000, 30, 3000, 30, 3000, 30, 3000, 30, 3000, 30, 3000, 30, 3000, 30, 3000, 30,
                                 3000, 30, 3000, 30, 3000, 30, 3000, 30, 3000, 30, 3000, 30, 3000, 150]) + \
    [(3100, 1500), (3200, 80), (3300, 1100), (3400, 150), (3500, 1000), (3600, 40), (3700, 800), (3780, 300),
     (3853, 137), (3940, 500), (4018, 920), (4080, 300), (4141, 62), (4220, 300)]
f_00100_late = [(4220, 300), (4306, 740), (4390, 350), (4472, 219), (4550, 450), (4636, 680), (4720, 300), (4800, 186),
                (4860, 500), (4925, 740), (5008, 200), (5100, 500), (5200, 700), (5297, 265), (5360, 500), (5420, 740),
                (5500, 300), (5600, 650), (5709, 325), (5800, 600), (5915, 650), (6000, 340)] + \
    spread(6050, 10000, [600, 350, 590, 360, 580, 370, 570, 380, 560, 380, 550, 390, 540, 390, 530, 390, 520, 390, 520,
                         380, 510, 390, 520, 380, 510, 390, 500, 380, 510, 380, 500, 370, 500, 380, 510, 380, 500, 370,
                         520, 380, 510, 390, 500, 380, 510, 370, 500, 380, 510, 380, 500, 370, 510, 380, 500, 390,
                         510, 380, 500, 370, 510, 380, 500, 380, 510, 370, 500, 380, 510, 380, 500, 390, 480, 400])
f_extra = [([(0, 20), (30, 200), (60, 20), (560, 20), (594, 560), (620, 20)], ORANGE),
           ([(0, 20), (20, 65), (40, 20), (850, 20), (880, 3000), (900, 20)], PURPLE),
           ([(240, 20), (264, 3000), (290, 20)], LBLUE)]

# ---------------- (g) ----------------
g_e1 = [(0, 80), (15, 3000), (40, 55000), (90, 62000), (130, 40000), (180, 9000), (267, 4500), (320, 14000),
        (380, 25000), (430, 29000), (480, 21000), (530, 28000), (580, 19000), (640, 27000), (700, 18000), (760, 26000),
        (830, 20000), (900, 27000), (970, 21000), (1040, 26000), (1120, 21000), (1200, 25500), (1300, 21500),
        (1400, 25000), (1500, 22000)] + \
    spread(1600, 10000, [24500, 22000, 25500, 22500, 25000, 22000, 25500, 22500, 25000, 22500, 25500, 22000, 25000,
                         22500, 25500, 22500, 25000, 22000, 25500, 22500, 25000, 22500, 25500, 22000, 25000, 22500,
                         25500, 22500, 25000, 22000, 25500, 22500, 25000, 22500, 25500, 22000, 25000, 22500, 25500,
                         22500, 25000, 22000, 25500, 22500, 25000, 22500, 25500, 22000, 25000, 23000])
g_e2 = [(30, 100), (60, 1000), (90, 3500), (120, 2500), (150, 2000), (200, 1200), (240, 850), (280, 1300), (320, 1100),
        (350, 1200), (390, 1000), (430, 900), (480, 700), (550, 560), (620, 450), (700, 330), (790, 220), (850, 160),
        (910, 110), (950, 90)]
g_e3 = [(0, 50), (40, 100), (65, 1000), (100, 8000), (150, 40000), (200, 75000), (240, 88000), (280, 90000),
        (320, 75000), (370, 82000), (420, 70000), (480, 80000), (540, 68000), (600, 78000), (660, 67000), (720, 77000),
        (800, 66000), (880, 76000), (960, 66000), (1040, 76000), (1120, 66000), (1200, 76000), (1300, 66000),
        (1400, 76000), (1500, 66000)] + \
    spread(1600, 10000, [77000, 66000, 78000, 65000, 77000, 66000, 78000, 66000, 77000, 65000, 78000, 66000, 77000,
                         66000, 78000, 65000, 77000, 66000, 78000, 66000, 77000, 65000, 78000, 66000, 77000, 66000,
                         78000, 65000, 77000, 66000, 78000, 66000, 77000, 65000, 78000, 66000, 77000, 66000, 78000,
                         65000, 77000, 66000, 78000, 66000, 77000, 65000, 78000, 66000, 77000, 68000])
g_e4 = [(0, 50), (20, 100), (60, 1500), (110, 15000), (160, 50000), (200, 70000), (242, 76000), (275, 40000),
        (310, 55000), (350, 38000), (400, 56000), (450, 37000), (500, 55000), (560, 37000), (620, 54000), (690, 38000),
        (760, 53000), (840, 39000), (920, 52000), (1000, 40000), (1100, 51000), (1200, 41000), (1300, 50000),
        (1400, 41500), (1500, 50000)] + \
    spread(1600, 10000, [42000, 49000, 42500, 48500, 42500, 48500, 43000, 48000, 43000, 48000, 43000, 48000, 43000,
                         48000, 43000, 48000, 43000, 48000, 43000, 48000, 43000, 48000, 43000, 48000, 43000, 48000,
                         43000, 48000, 43000, 48000, 43000, 48000, 43000, 48000, 43000, 48000, 43000, 48000, 43000,
                         48000, 43000, 48000, 43000, 48000, 43000, 48000, 43000, 48000, 43000, 46000])
g_e5 = [(0, 50), (65, 80), (105, 150), (160, 1000), (210, 3800), (260, 8000), (307, 15000), (350, 30000), (388, 50000),
        (420, 80000), (452, 103000), (490, 92000), (530, 85000), (580, 93000), (640, 84000), (700, 92000),
        (780, 83000), (860, 91000), (940, 82000), (1020, 91000), (1100, 82000), (1200, 91000), (1300, 82000),
        (1400, 91000), (1500, 82000)] + \
    spread(1600, 10000, [92000, 82000, 91000, 83000, 92000, 82000, 91000, 83000, 92000, 82000, 91000, 83000, 92000,
                         82000, 91000, 83000, 92000, 82000, 91000, 83000, 92000, 82000, 91000, 83000, 92000, 82000,
                         91000, 83000, 92000, 82000, 91000, 83000, 92000, 82000, 91000, 83000, 92000, 82000, 91000,
                         83000, 92000, 82000, 91000, 83000, 92000, 82000, 91000, 83000, 92000, 86000])

# ---------------- (h) ----------------
h_11010 = spread(0, 10000, [50, 2500, 60, 2500, 80, 2500, 100, 2500, 150, 2500, 300, 2500, 500,
                            2300, 900, 2100, 950, 2000, 950, 1900, 1000, 1800, 1000, 1700, 950, 1600,
                            950, 1550, 950, 1500, 1000, 1400, 1000, 1350, 1000, 1300, 1000, 1300, 1000, 1250, 1000,
                            1250, 1050, 1250, 1050, 1230, 1060, 1220, 1060, 1200, 1080, 1200, 1080, 1180, 1090, 1170,
                            1100, 1160, 1100, 1150, 1100, 1160, 1100, 1150, 1100, 1150, 1110, 1140, 1110, 1150, 1100,
                            1150, 1110, 1160, 1100, 1150, 1110, 1160, 1100, 1170, 1090, 1180, 1080, 1200, 1060, 1220,
                            1050, 1250, 1040, 1280, 1030, 1300, 1020, 1300, 1000, 1320, 1000, 1300, 1050, 1350, 1200])
h_11101 = spread(0, 10000, [2500, 50, 2500, 60, 2500, 100, 2500, 200, 2000, 300, 1900, 400, 1800,
                            640, 1700, 660, 1650, 700, 1500, 720, 1400, 750, 1300, 780, 1200, 800,
                            1150, 820, 1100, 840, 1050, 850, 1000, 860, 980, 870, 960, 870, 950, 880, 940,
                            880, 950, 870, 960, 880, 950, 870, 940, 880, 950, 880, 940, 870, 950, 880, 940, 870, 950,
                            880, 940, 870, 950, 880, 940, 870, 950, 880, 940, 870, 950, 880, 940, 870, 950, 880, 940,
                            870, 950, 880, 940, 880, 950, 870, 960, 880, 950, 870, 960, 880, 950, 880, 960, 870, 970,
                            880, 950, 870, 960, 880, 900])
h_00000 = [(0, 50), (20, 2500), (40, 2500), (60, 50), (300, 50), (350, 2000), (400, 60), (700, 60), (750, 1500),
           (800, 80), (1000, 100), (1100, 700)] + \
    spread(1200, 10000, [760, 700, 800, 720, 780, 700, 800, 730, 790, 720, 800, 740, 810, 750, 800, 760, 820, 770, 810,
                         760, 800, 760, 820, 770, 810, 760, 830, 770, 800, 760, 820, 780, 810, 760, 830, 770, 800, 770,
                         820, 760, 810, 780, 830, 760, 800, 770, 820, 760, 810, 780, 830, 770, 800, 760, 820, 770, 810,
                         760, 830, 780, 800, 760, 820, 770, 810, 760, 830, 770, 800, 780, 820, 760, 810, 770, 830, 760,
                         800, 770, 820, 760, 810, 780, 830, 760, 800, 770, 820, 760, 810, 780])
h_00100 = [(0, 50), (50, 2500), (100, 50), (200, 2500), (300, 50), (400, 1500), (500, 60), (600, 1200), (700, 100),
           (800, 900), (900, 150), (1000, 800), (1100, 200)] + \
    spread(1150, 10000, [700, 210, 720, 220, 700, 230, 680, 240, 650, 250, 640, 260, 620, 270, 600, 280, 600, 300, 580,
                         310, 570, 320, 560, 340, 560, 350, 550, 360, 560, 370, 550, 380, 540, 390, 540, 400, 550, 400,
                         540, 410, 550, 400, 540, 410, 550, 420, 540, 410, 550, 400, 560, 400, 550, 410, 540, 420, 550,
                         410, 560, 400, 570, 400, 560, 410, 550, 390, 560, 400, 570, 390, 560, 400, 550, 410, 560, 390,
                         570, 400, 560, 380, 540, 400, 550, 390, 570, 400, 560, 390, 550, 420])
h_00010 = [(0, 50), (150, 50), (180, 600), (210, 50), (400, 50), (450, 300), (500, 50), (800, 50), (850, 200),
           (900, 60), (1000, 60), (1050, 210), (1100, 100)] + \
    spread(1150, 10000, [95, 80, 110, 85, 120, 78, 105, 90, 115, 80, 100, 85, 118, 82, 95, 110, 80, 100, 88, 115, 85,
                         96, 105, 78, 112, 90, 100, 80, 108, 92, 84, 98, 110, 82, 100, 90, 115, 86, 95, 78, 105, 92,
                         88, 110, 80, 98, 104, 85, 112, 90, 95, 80, 100, 88, 108, 82, 96, 110, 86, 100, 92, 80, 105,
                         88, 98, 112, 84, 100, 90, 106, 80, 96, 104, 88, 110, 85, 98, 92, 108, 86, 100, 112, 90, 98,
                         84, 104, 92, 110, 96, 88, 102, 115, 95, 108, 100, 112, 98, 118, 105, 110])
h_11000 = [(0, 50), (100, 50), (130, 1500), (160, 50), (600, 50), (650, 150), (700, 50), (1000, 50), (1100, 60)] + \
    spread(1150, 10000, [60, 55, 70, 52, 65, 58, 75, 55, 62, 68, 54, 72, 60, 56, 66, 74, 58, 64, 55, 70, 62, 58, 76, 60,
                         54, 68, 63, 57, 72, 60, 66, 55, 70, 62, 58, 74, 60, 56, 68, 64, 57, 70, 61, 55, 66, 73, 59,
                         63, 56, 69, 62, 58, 72, 60, 55, 67, 64, 57, 71, 62, 58, 66, 54, 70, 63, 59, 74, 61, 56, 68,
                         64, 58, 72, 60, 55, 66, 62, 70, 57, 64, 60, 75, 58, 66, 62, 70, 56, 68, 63, 72, 58, 66, 60,
                         74, 62, 68, 57, 65, 60, 62])
h_extra = [([(0, 50), (130, 50), (160, 2500), (190, 50), (500, 50), (520, 120), (540, 50), (700, 50), (720, 90),
             (740, 50)], LBLUE),
           ([(250, 50), (280, 2500), (310, 50), (600, 50), (620, 150), (640, 50), (950, 50), (980, 110),
             (1000, 50)], DRED)]


def line(ax, pts, **kw):
    t, v = zip(*pts)
    return ax.plot(t, v, **kw)[0]


def style(ax, xmax, xstep, tsize=10):
    ax.set_xlim(0, xmax)
    ax.set_xticks(np.arange(0, xmax + 1, xstep))
    ax.tick_params(which='both', direction='in', top=True, right=True, labelsize=tsize, pad=2)
    ax.tick_params(which='major', length=4)
    ax.tick_params(which='minor', length=2)
    for s in ax.spines.values():
        s.set_linewidth(0.8)


def strain_legend(ax, x, y):
    ax.legend(loc='upper left', bbox_to_anchor=(x, y), fontsize=9, frameon=True, fancybox=False, edgecolor='k',
              framealpha=1, borderpad=0.15, labelspacing=0.02, handlelength=1.7, handletextpad=0.0,
              borderaxespad=0)


def strain_panel(ax, series, widths):
    return [line(ax, pts, color=c, lw=w, label=lab)
            for pts, c, w, lab in zip(series, COLORS8, widths, STRAINS3)]


def small_legend(ax, colors, labels, x, y):
    hs = [Line2D([], [], color=c, lw=1.5) for c in colors]
    return ax.legend(hs, [r'$\mathrm{%s}$' % s for s in labels], loc='upper left', bbox_to_anchor=(x, y),
                     fontsize=7.5, frameon=True, fancybox=False, edgecolor='k', framealpha=1, handlelength=2.9,
                     handletextpad=1.2, labelspacing=-0.05, borderpad=0.25, borderaxespad=0)


fig = plt.figure(figsize=(11.44, 13.79), dpi=100)
W = 0.3872
L1, L2 = 0.0717, 0.5839

# (a)
ax = fig.add_axes([L1, 0.8202, W, 0.1668])
strain_panel(ax, [a_000, a_100, a_010, a_110, a_001, a_101, a_011, a_111], [TK, TK, TN, TK, TN, TN, TN, TK])
ax.set_yscale('log'); ax.set_ylim(0.1, 9000)
ax.set_yticks([0.1, 1, 10, 100, 1000])
style(ax, 2500, 500)
ax.set_xlabel('Time', fontsize=10.5, labelpad=1)
ax.set_ylabel(r'$\mathrm{Viral\ load}\ y_i\ \mathrm{(log\ scale)}$', fontsize=11, labelpad=2)
strain_legend(ax, 0.447, 1.035)

# (b)
ax = fig.add_axes([L2, 0.8202, W, 0.1668])
lines_b = strain_panel(ax, [b_000, b_100, b_010, b_110, b_001, b_101, b_011, b_111],
                       [TK, TK, TN, TK, TN, TK, TN, TK])
lines_b[6].set_zorder(1.5)   # 0 1 1 sits under the noise, only its drops show
ax.set_yscale('log'); ax.set_ylim(0.1, 2000)
ax.set_yticks([0.1, 1, 10, 100, 1000])
style(ax, 2000, 500)
ax.set_xlabel('Time', fontsize=10.5, labelpad=1)
ax.set_ylabel(r'$y_i\ \mathrm{(log\ scale)}$', fontsize=11, labelpad=2)
strain_legend(ax, 0.779, 0.991)

# (c)
ax = fig.add_axes([L1, 0.5649, W, 0.1668])
strain_panel(ax, [c_000, c_100, c_010, c_110, c_001, c_101, c_011, c_111], [TK, TK, TK, TN, TK, TN, TN, TN])
ax.set_yscale('log'); ax.set_ylim(1, 2000)
ax.set_yticks([1, 10, 100, 1000])
style(ax, 4000, 500)
ax.set_xlabel('Time', fontsize=10.5, labelpad=1)
ax.set_ylabel(r'$y_i\ \mathrm{(log\ scale)}$', fontsize=11, labelpad=2)
strain_legend(ax, 0.679, 0.987)

# (d)
ax = fig.add_axes([L2, 0.5663, W, 0.1653])
strain_panel(ax, [d_000, d_100, d_010, d_110, d_001, d_101, d_011, d_111], [TK, TK, TN, TK, TN, TN, TN, TK])
ax.set_ylim(0, 2000)
ax.set_yticks(np.arange(0, 2001, 500))
style(ax, 4000, 500)
ax.set_xlabel('Time', fontsize=10.5, labelpad=1)
ax.set_ylabel(r'y$_\mathregular{i}$', fontsize=11.5, labelpad=2)
strain_legend(ax, 0.876, 0.974)

# (e)
ax = fig.add_axes([L1, 0.3075, W, 0.169])
strain_panel(ax, [e_000, e_100, e_010, e_110, e_001, e_101, e_011, e_111], [TN, TK, TN, TK, TK, TN, TN, TK])
ax.set_ylim(0, 3000)
ax.set_yticks(np.arange(0, 3001, 500))
style(ax, 3000, 500)
strain_legend(ax, 0.883, 0.974)

# (f)
ax = fig.add_axes([L2, 0.3162, W, 0.1603])
for pts, c in f_extra:
    line(ax, pts, color=c, lw=2)
line(ax, f_00100_early, color=BLUE, lw=2.6, ls=':')
line(ax, f_00100_late, color=BLUE, lw=3.0)
line(ax, f_11010, color=GREEN, lw=2.4, ls='--')
line(ax, f_00000, color=MAGENTA, lw=2.0, ls='--')
line(ax, f_11101, color=YELLOW, lw=2.0, ls=':')
ax.set_yscale('log'); ax.set_ylim(50, 2050)
ax.set_yticks([100, 1000])
style(ax, 10000, 2000, tsize=15)
ax.set_xlabel('Time', fontsize=16, labelpad=0)
ax.set_ylabel(r'$\mathrm{Viral\ strains}\ y_i\ \mathrm{(log\ scale)}$', fontsize=14, labelpad=4)
small_legend(ax, [GREEN, MAGENTA, YELLOW, BLUE], ['11010', '00000', '11101', '00100'], 0.564, 0.362)

# (g)
ax = fig.add_axes([L1, 0.0595, W, 0.161])
for pts, c, lab in zip([g_e1, g_e2, g_e3, g_e4, g_e5], [BLUE, ORANGE, YELLOW, PURPLE, GREEN],
                       ['Epitope 1', 'Epitope 2', 'Epitope 3', 'Epitope 4', 'Epitope 5']):
    line(ax, pts, color=c, lw=3.4, label=lab)
ax.set_yscale('log'); ax.set_ylim(100, 1.25e5)
ax.set_yticks([100, 1000, 1e4, 1e5])
style(ax, 10000, 2000, tsize=15)
ax.tick_params(axis='x', pad=5)
ax.tick_params(axis='y', pad=3)
ax.set_xlabel('Time', fontsize=16, labelpad=-1)
ax.set_ylabel(r'$\mathrm{Immune\ Response}\ z_j\ \mathrm{(log\ scale)}$', fontsize=14, labelpad=2)
ax.legend(loc='upper left', bbox_to_anchor=(0.47, 0.667), fontsize=13, frameon=True, fancybox=False,
          edgecolor='k', framealpha=1, handlelength=1.6, handletextpad=0.0, labelspacing=0.05, borderpad=0.2,
          borderaxespad=0)

# (h)
ax = fig.add_axes([L2, 0.0595, W, 0.161])
for pts, c in h_extra:
    line(ax, pts, color=c, lw=2)
line(ax, h_00010, color=ORANGE, lw=2.4)
line(ax, h_11000, color=PURPLE, lw=2.4)
line(ax, h_00100, color=BLUE, lw=4.0)
line(ax, h_00000, color=MAGENTA, lw=2.0, ls='--')
line(ax, h_11101, color=YELLOW, lw=2.0, ls=':')
line(ax, h_11010, color=GREEN, lw=2.4, ls='--')
ax.set_yscale('log'); ax.set_ylim(50, 2100)
ax.set_yticks([100, 1000])
style(ax, 10000, 2000, tsize=15)
ax.set_xlabel('Time', fontsize=16, labelpad=0)
ax.set_ylabel(r'$\mathrm{Viral\ strains}\ y_i\ \mathrm{(log\ scale)}$', fontsize=14, labelpad=4)
leg1 = small_legend(ax, [GREEN, YELLOW, MAGENTA, BLUE], ['11010', '11101', '00000', '00100'], 0.334, 0.527)
ax.add_artist(leg1)
leg2 = small_legend(ax, [ORANGE, PURPLE], ['00010', '11000'], 0.58, 0.333)
leg2.get_frame().set_linestyle('--')
ax.annotate('', xy=(0.664, 0.721), xytext=(0.530, 0.491), xycoords='axes fraction',
            arrowprops=dict(arrowstyle='-|>', color='k', lw=1.2))
ax.annotate('', xy=(0.637, 0.532), xytext=(0.530, 0.378), xycoords='axes fraction',
            arrowprops=dict(arrowstyle='-|>', color='k', lw=1.2))
ax.annotate('', xy=(0.858, 0.198), xytext=(0.749, 0.270), xycoords='axes fraction',
            arrowprops=dict(arrowstyle='-|>', color='k', lw=1.2, ls=':'))

# panel captions
for lab, x, y in [('a', 0.249, 0.775), ('b', 0.759, 0.775), ('c', 0.249, 0.521), ('d', 0.759, 0.521),
                  ('e', 0.249, 0.265), ('f', 0.759, 0.265), ('g', 0.249, 0.012), ('h', 0.759, 0.012)]:
    fig.text(x, y, r'$\mathrm{(' + lab + ')}$', ha='center', va='center', fontsize=13)

fig.savefig('out.png', dpi=100)
